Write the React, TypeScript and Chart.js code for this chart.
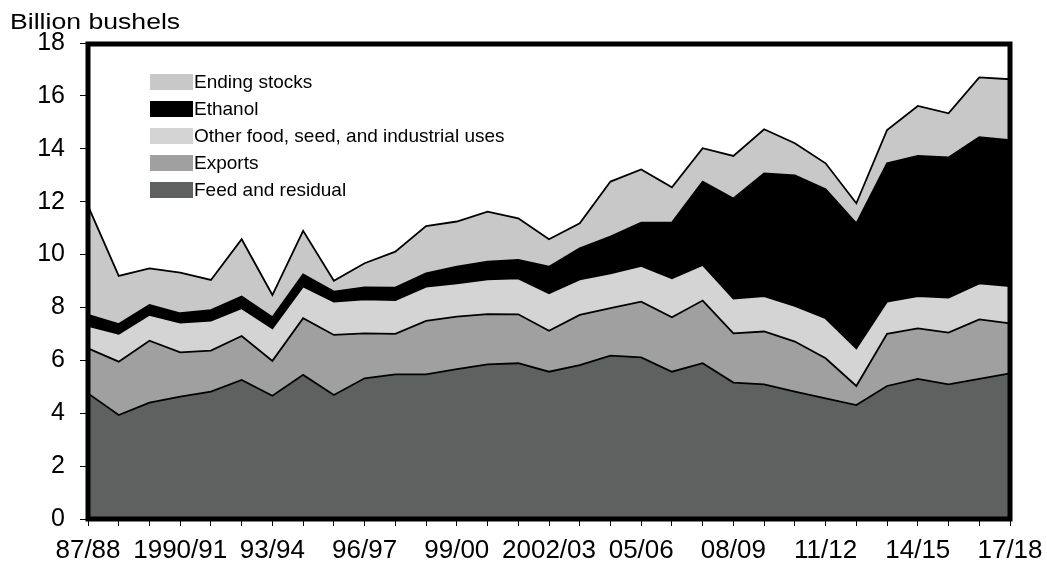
import React, { useEffect, useRef } from "react";
import { Chart, registerables } from "chart.js";

Chart.register(...registerables);

const categories = [
  "87/88", "88/89", "89/90", "1990/91", "91/92", "92/93", "93/94", "94/95", "95/96", "96/97",
  "97/98", "98/99", "99/00", "2000/01", "01/02", "2002/03", "03/04", "04/05", "05/06", "06/07",
  "07/08", "08/09", "09/10", "10/11", "11/12", "12/13", "13/14", "14/15", "15/16", "16/17", "17/18",
];

const shownTickLabels = [
  "87/88", "1990/91", "93/94", "96/97", "99/00", "2002/03", "05/06", "08/09", "11/12", "14/15", "17/18",
];

const feedAndResidual = [
  4.75, 3.93, 4.40, 4.63, 4.82, 5.26, 4.66, 5.45, 4.69, 5.32,
  5.47, 5.47, 5.67, 5.85, 5.89, 5.57, 5.82, 6.18, 6.11, 5.57,
  5.89, 5.16, 5.09, 4.82, 4.56, 4.31, 5.03, 5.30, 5.09, 5.30, 5.51,
];
const exportsVals = [
  1.70, 2.02, 2.34, 1.67, 1.55, 1.66, 1.32, 2.14, 2.27, 1.70,
  1.53, 2.02, 1.98, 1.90, 1.85, 1.55, 1.90, 1.79, 2.11, 2.06,
  2.37, 1.86, 2.00, 1.89, 1.52, 0.72, 1.97, 1.91, 1.96, 2.25, 1.89,
];
const otherFSI = [
  0.85, 1.05, 0.98, 1.13, 1.13, 1.05, 1.23, 1.20, 1.26, 1.29,
  1.28, 1.30, 1.26, 1.31, 1.36, 1.42, 1.34, 1.32, 1.35, 1.47,
  1.35, 1.32, 1.34, 1.35, 1.51, 1.42, 1.22, 1.22, 1.32, 1.36, 1.41,
];
const ethanol = [
  0.42, 0.37, 0.37, 0.35, 0.40, 0.44, 0.42, 0.46, 0.38, 0.45,
  0.47, 0.50, 0.63, 0.67, 0.70, 1.00, 1.18, 1.39, 1.64, 2.11,
  3.15, 3.78, 4.64, 4.93, 4.88, 4.73, 5.23, 5.30, 5.30, 5.53, 5.52,
];
const endingStocks = [
  4.12, 1.82, 1.39, 1.54, 1.14, 2.17, 0.84, 1.65, 0.41, 0.91,
  1.36, 1.79, 1.71, 1.89, 1.57, 1.04, 0.94, 2.08, 2.01, 1.33,
  1.26, 1.61, 1.67, 1.22, 0.98, 0.76, 1.26, 1.89, 1.67, 2.26, 2.30,
];

const seriesNames = [
  "Feed and residual",
  "Exports",
  "Other food, seed, and industrial uses",
  "Ethanol",
  "Ending stocks",
];
const seriesColors = ["#5f6060", "#a0a0a0", "#d4d4d4", "#000000", "#c8c8c8"];

const FONT = "'Liberation Sans', Arial, sans-serif";

const framePlugin = {
  id: "frameAndLegend",
  afterDraw(chart: any) {
    const { ctx, chartArea } = chart;
    ctx.save();
    // frame
    ctx.strokeStyle = "#000";
    ctx.lineWidth = 5;
    ctx.strokeRect(
      chartArea.left,
      chartArea.top + 1,
      chartArea.right - chartArea.left,
      chartArea.bottom - chartArea.top - 1
    );
    // axis title
    ctx.fillStyle = "#000";
    ctx.font = `22px ${FONT}`;
    ctx.textBaseline = "alphabetic";
    ctx.textAlign = "left";
    ctx.save();
    ctx.translate(10, 29);
    ctx.scale(1.21, 1);
    ctx.fillText("Billion bushels", 0, 0);
    ctx.restore();
    // legend (reverse order)
    const order = [4, 3, 2, 1, 0];
    ctx.font = `19px ${FONT}`;
    ctx.textBaseline = "middle";
    order.forEach((di, row) => {
      const cy = 82 + row * 27;
      ctx.fillStyle = seriesColors[di];
      ctx.fillRect(150, cy - 8, 43, 16);
      ctx.fillStyle = "#000";
      ctx.fillText(seriesNames[di], 194, cy + 1);
    });
    ctx.restore();
  },
};

export default function App() {
  const canvasRef = useRef<HTMLCanvasElement | null>(null);

  useEffect(() => {
    if (!canvasRef.current) return;
    const values = [feedAndResidual, exportsVals, otherFSI, ethanol, endingStocks];
    const chart = new Chart(canvasRef.current, {
      type: "line",
      data: {
        labels: categories,
        datasets: values.map((v, i) => ({
          label: seriesNames[i],
          data: v,
          backgroundColor: seriesColors[i],
          borderColor: "#000",
          borderWidth: 1.8,
          fill: i === 0 ? "origin" : "-1",
          pointRadius: 0,
          tension: 0,
        })),
      },
      options: {
        animation: false,
        responsive: false,
        maintainAspectRatio: false,
        layout: { padding: { left: 0, top: 43, right: 37, bottom: 0 } },
        plugins: {
          legend: { display: false },
          tooltip: { enabled: false },
        },
        scales: {
          x: {
            offset: false,
            grid: {
              display: true,
              drawOnChartArea: false,
              drawTicks: true,
              tickLength: 7,
              color: "#000",
              lineWidth: 1,
            },
            border: { display: false },
            ticks: {
              autoSkip: false,
              maxRotation: 0,
              minRotation: 0,
              color: "#000",
              padding: 9,
              font: { family: FONT, size: 26 },
              callback: (_v: any, idx: number) => {
                const lab = categories[idx];
                return shownTickLabels.includes(lab) ? lab : "";
              },
            },
            afterFit: (scale: any) => {
              scale.height = 48;
              scale.paddingLeft = 0;
              scale.paddingRight = 0;
            },
          },
          y: {
            stacked: true,
            min: 0,
            max: 18,
            grid: {
              display: true,
              drawOnChartArea: false,
              drawTicks: true,
              tickLength: 8,
              color: "#000",
              lineWidth: 1,
            },
            border: { display: false },
            ticks: {
              stepSize: 2,
              color: "#000",
              padding: 15,
              font: { family: FONT, size: 25 },
            },
            afterFit: (scale: any) => {
              scale.width = 88;
              scale.paddingTop = 0;
              scale.paddingBottom = 0;
            },
          },
        },
      },
      plugins: [framePlugin],
    });
    return () => chart.destroy();
  }, []);

  return (
    <div style={{ position: "fixed", left: 0, top: 0, width: 1047, height: 567, background: "#fff" }}>
      <canvas ref={canvasRef} width={1047} height={567} style={{ width: 1047, height: 567 }} />
    </div>
  );
}
